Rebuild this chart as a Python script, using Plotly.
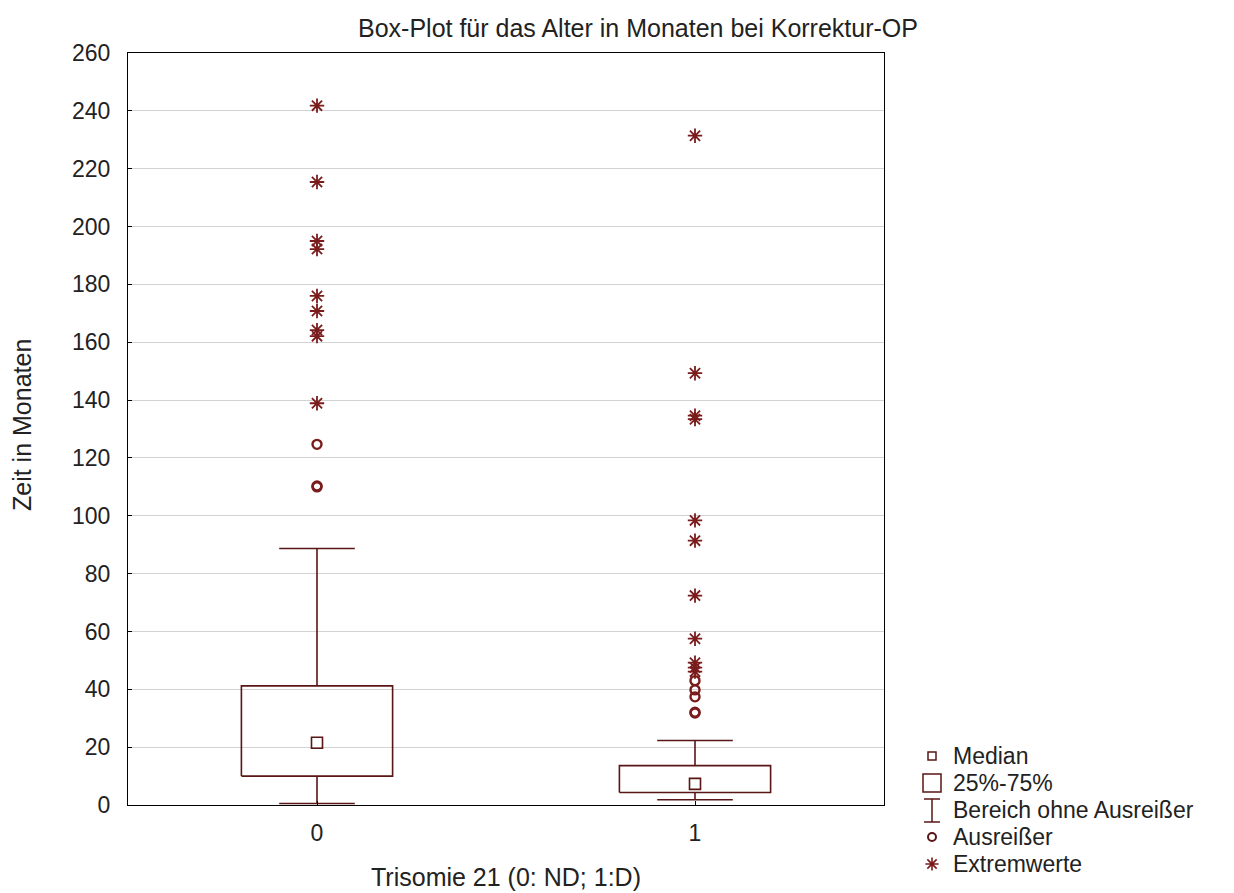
import plotly.graph_objects as go

# ---- data ----
groups = [0, 1]
group_labels = ["0", "1"]
q1 = [10.0, 4.3]
median = [21.5, 7.3]
q3 = [41.2, 13.6]
lower_whisker = [0.5, 1.8]
upper_whisker = [88.7, 22.3]
outliers = [
    [124.7, 110.3, 110.0],
    [43.0, 39.8, 37.4, 32.1, 31.8],
]
extremes = [
    [241.8, 215.4, 195.0, 192.2, 176.0, 170.8, 164.2, 162.1, 138.9],
    [231.4, 149.3, 134.6, 133.4, 98.4, 91.4, 72.4, 57.5, 49.2, 47.5, 46.1],
]
y_ticks = list(range(0, 261, 20))

title_text = "Box-Plot für das Alter in Monaten bei Korrektur-OP"
x_title = "Trisomie 21 (0: ND; 1:D)"
y_title = "Zeit in Monaten"
legend_names = ["Median", "25%-75%", "Bereich ohne Ausreißer", "Ausreißer", "Extremwerte"]

# ---- style / layout constants (figure pixels) ----
W, H = 1234, 893
PLOT_L, PLOT_R, PLOT_T, PLOT_B = 128, 884, 53, 805
LINE_C = "#5a1616"
MARK_C = "#7a1c1c"
FONT = "Liberation Sans, Arial, sans-serif"
TXT_C = "#222222"
BOX_HW = 0.2
CAP_HW = 0.1

# legend geometry (pixels inside the legend panel)
LEG_X0, LEG_X1, LEG_Y0, LEG_Y1 = 900, 1234, 733, 893
LEG_ROWS = [756, 783, 810, 837, 864]
LEG_SYM_X = 932
LEG_TXT_X = 952
LEG_FONT = 23

fig = go.Figure()

for i, g in enumerate(groups):
    # box (25%-75%)
    fig.add_trace(go.Scatter(
        x=[g - BOX_HW, g + BOX_HW, g + BOX_HW, g - BOX_HW, g - BOX_HW],
        y=[q1[i], q1[i], q3[i], q3[i], q1[i]],
        mode="lines", line=dict(color=LINE_C, width=1.6),
        showlegend=False, hoverinfo="skip"))
    # whiskers + caps
    fig.add_trace(go.Scatter(
        x=[g, g, None, g, g, None,
           g - CAP_HW, g + CAP_HW, None, g - CAP_HW, g + CAP_HW],
        y=[q3[i], upper_whisker[i], None, q1[i], lower_whisker[i], None,
           upper_whisker[i], upper_whisker[i], None, lower_whisker[i], lower_whisker[i]],
        mode="lines", line=dict(color=LINE_C, width=1.6),
        showlegend=False, hoverinfo="skip"))
    # median
    fig.add_trace(go.Scatter(
        x=[g], y=[median[i]], mode="markers",
        marker=dict(symbol="square-open", size=11, color=LINE_C, line=dict(width=1.6)),
        showlegend=False))
    # outliers
    fig.add_trace(go.Scatter(
        x=[g] * len(outliers[i]), y=outliers[i], mode="markers",
        marker=dict(symbol="circle-open", size=9, color=MARK_C, line=dict(width=2.4)),
        showlegend=False))
    # extremes
    fig.add_trace(go.Scatter(
        x=[g] * len(extremes[i]), y=extremes[i], mode="markers",
        marker=dict(symbol="asterisk-open", size=12, color=MARK_C,
                    line=dict(width=1.8, color=MARK_C)),
        showlegend=False))

# ---- custom legend panel (overlay axes in pixel units) ----
leg_kw = dict(xaxis="x2", yaxis="y2", showlegend=False, hoverinfo="skip")
# Median: small square
fig.add_trace(go.Scatter(x=[LEG_SYM_X], y=[LEG_ROWS[0]], mode="markers",
                         marker=dict(symbol="square-open", size=8, color=LINE_C, line=dict(width=1.5)),
                         **leg_kw))
# 25%-75%: large square
fig.add_trace(go.Scatter(x=[LEG_SYM_X], y=[LEG_ROWS[1]], mode="markers",
                         marker=dict(symbol="square-open", size=18, color=LINE_C, line=dict(width=1.5)),
                         **leg_kw))
# Bereich ohne Ausreißer: I-beam
r = LEG_ROWS[2]
fig.add_trace(go.Scatter(
    x=[LEG_SYM_X, LEG_SYM_X, None, LEG_SYM_X - 8, LEG_SYM_X + 8, None, LEG_SYM_X - 8, LEG_SYM_X + 8],
    y=[r - 11, r + 12, None, r - 11, r - 11, None, r + 12, r + 12],
    mode="lines", line=dict(color=LINE_C, width=1.5), **leg_kw))
# Ausreißer: circle
fig.add_trace(go.Scatter(x=[LEG_SYM_X], y=[LEG_ROWS[3]], mode="markers",
                         marker=dict(symbol="circle-open", size=8, color=LINE_C, line=dict(width=2)),
                         **leg_kw))
# Extremwerte: asterisk
fig.add_trace(go.Scatter(x=[LEG_SYM_X], y=[LEG_ROWS[4]], mode="markers",
                         marker=dict(symbol="asterisk-open", size=11, color=MARK_C,
                                     line=dict(width=1.6, color=MARK_C)),
                         **leg_kw))
for name, row in zip(legend_names, LEG_ROWS):
    fig.add_annotation(text=name, xref="x2", yref="y2", x=LEG_TXT_X, y=row,
                       xanchor="left", yanchor="middle", showarrow=False, borderpad=0,
                       font=dict(family=FONT, size=LEG_FONT, color=TXT_C))

fig.update_layout(
    template="none",
    width=W, height=H,
    margin=dict(l=0, r=0, t=0, b=0, pad=0),
    paper_bgcolor="white", plot_bgcolor="white",
    font=dict(family=FONT, size=23, color=TXT_C),
    showlegend=False,
    xaxis=dict(
        domain=[PLOT_L / W, PLOT_R / W], anchor="y",
        range=[-0.5, 1.5], tickvals=groups, ticktext=group_labels,
        showgrid=False, zeroline=False,
        showline=True, linecolor="black", linewidth=1, mirror=True,
        ticks="inside", ticklen=4, tickcolor="black",
        ticklabelstandoff=7, automargin=False,
        tickfont=dict(family=FONT, size=23, color=TXT_C),
    ),
    yaxis=dict(
        domain=[(H - PLOT_B) / H, (H - PLOT_T) / H], anchor="x",
        range=[0, 260], tickvals=y_ticks,
        showgrid=True, gridcolor="#d2d2d2", gridwidth=1, zeroline=False,
        showline=True, linecolor="black", linewidth=1, mirror=True,
        ticks="inside", ticklen=4, tickcolor="black",
        ticklabelstandoff=12, automargin=False,
        tickfont=dict(family=FONT, size=23, color=TXT_C),
    ),
    xaxis2=dict(domain=[LEG_X0 / W, LEG_X1 / W], anchor="y2",
                range=[LEG_X0, LEG_X1], visible=False, fixedrange=True),
    yaxis2=dict(domain=[0, (H - LEG_Y0) / H], anchor="x2",
                range=[LEG_Y1, LEG_Y0], visible=False, fixedrange=True),
)

fig.add_annotation(text=title_text, xref="paper", yref="paper",
                   x=638 / W, y=1 - 28 / H, xanchor="center", yanchor="middle",
                   showarrow=False, font=dict(family=FONT, size=25, color=TXT_C))
fig.add_annotation(text=x_title, xref="paper", yref="paper",
                   x=506 / W, y=1 - 877 / H, xanchor="center", yanchor="middle",
                   showarrow=False, font=dict(family=FONT, size=25, color=TXT_C))
fig.add_annotation(text=y_title, xref="paper", yref="paper",
                   x=22 / W, y=1 - 425 / H, xanchor="center", yanchor="middle",
                   textangle=-90, showarrow=False,
                   font=dict(family=FONT, size=25, color=TXT_C))

fig.write_html("out.html")
